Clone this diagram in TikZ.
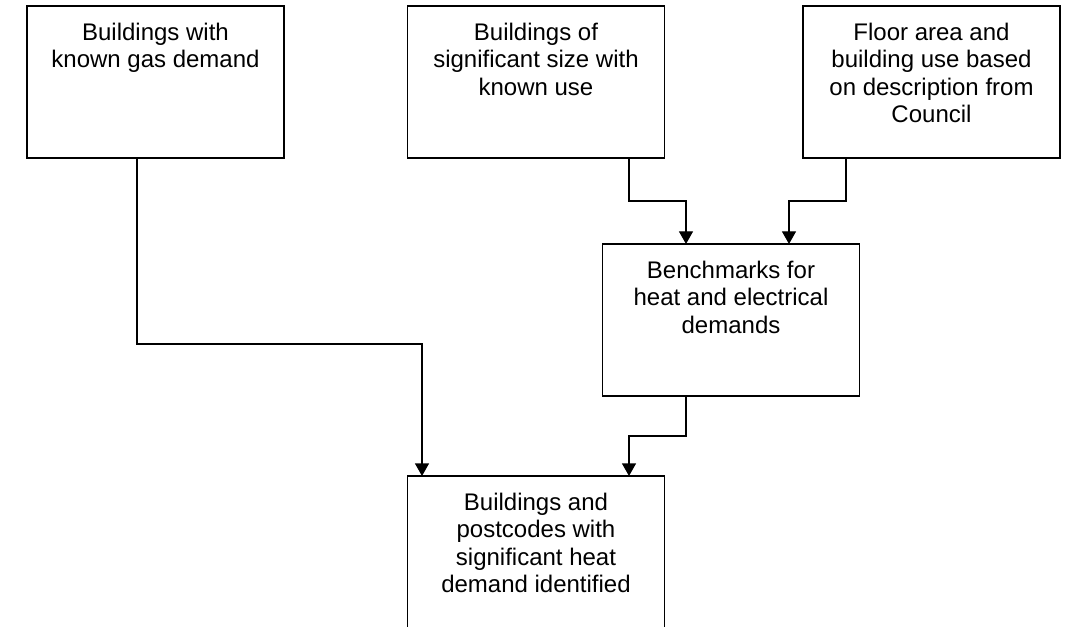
\documentclass[tikz,border=0pt]{standalone}
\usepackage{fontspec}
\setmainfont{Liberation Sans}
\usetikzlibrary{arrows.meta,positioning,calc}

\begin{document}
\begin{tikzpicture}[x=0.75pt,y=-0.75pt,
    box/.style={draw=black,line width=1pt,fill=white,inner sep=0pt,outer sep=0pt,
      minimum width=192.75pt,minimum height=114pt},
    txt/.style={align=center,inner sep=0pt,font=\fontsize{18}{20.5}\selectfont},
    con/.style={line width=1pt,-{Triangle[length=9.5pt,width=10.5pt]}}]
  \useasboundingbox (0,0) rectangle (1068,627);
  \clip (0,0) rectangle (1068,627);
  % boxes
  \node[box] (gas) at (155.5,82) {};
  \node[box] (size) at (536,82) {};
  \node[box] (floor) at (931.5,82) {};
  \node[box] (bench) at (731,320) {};
  \node[box] (hub) at (536,552) {};
  \node[txt,below=12.75pt of gas.north] (gasT) {Buildings with\\known gas demand};
  \node[txt,below=12.75pt of size.north] (sizeT) {Buildings of\\significant size with\\known use};
  \node[txt,below=12.75pt of floor.north] (floorT) {Floor area and\\building use based\\on description from\\Council};
  \node[txt,below=12.75pt of bench.north] (benchT) {Benchmarks for\\heat and electrical\\demands};
  \node[txt,below=12.75pt of hub.north] (hubT) {Buildings and\\postcodes with\\significant heat\\demand identified};
  % connector ends
  \coordinate (gasOut) at ($(gas.south)+(-18.5,0)$);
  \coordinate (sizeOut) at ($(size.south)+(93,0)$);
  \coordinate (floorOut) at ($(floor.south)+(-85.5,0)$);
  \coordinate (benchOut) at ($(bench.south)+(-45,0)$);
  \coordinate (benchInL) at ($(bench.north)+(-45,0)$);
  \coordinate (benchInR) at ($(bench.north)+(58,0)$);
  \coordinate (hubInL) at ($(hub.north)+(-114,0)$);
  \coordinate (hubInR) at ($(hub.north)+(93,0)$);
  % connectors
  \draw[con] (gasOut) -- ++(0,186) -| (hubInL);
  \draw[con] (sizeOut) -- ++(0,43) -| (benchInL);
  \draw[con] (floorOut) -- ++(0,43) -| (benchInR);
  \draw[con] (benchOut) -- ++(0,40) -| (hubInR);
\end{tikzpicture}
\end{document}
